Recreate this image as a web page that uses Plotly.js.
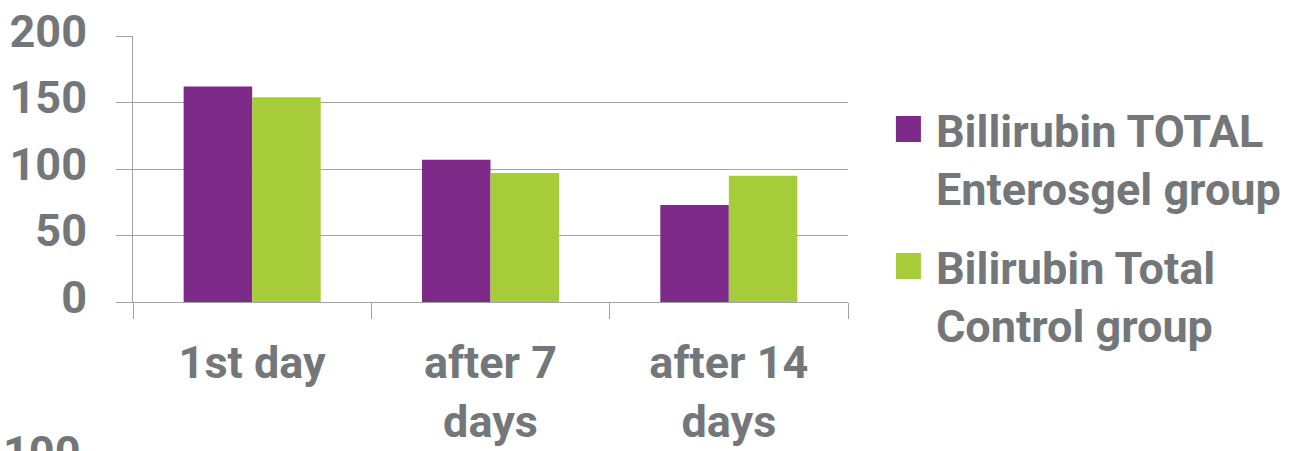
<!DOCTYPE html>
<html>
<head>
<meta charset="utf-8">
<script src="https://cdn.plot.ly/plotly-3.0.1.min.js"></script>
<style>
  html, body { margin: 0; padding: 0; background: #ffffff; }
  #chart { width: 1298px; height: 451px; }
</style>
</head>
<body>
<div id="chart"></div>
<script>
const categories = ["1st day", "after 7<br>days", "after 14<br>days"];
const enterosgelValues = [162, 107, 73];
const controlValues = [154, 97, 95];
const seriesNames = ["Billirubin TOTAL<br>Enterosgel group", "Bilirubin Total<br>Control group"];
const seriesColors = ["#7E2A88", "#A6CD39"];
const yTickValues = [0, 50, 100, 150, 200];
const yTickLabels = ["0", "50", "100", "150", "200"];

const textGray = "#74777A";
const gridGray = "#A3A3A3";
const FONT = "Roboto, 'Liberation Sans', sans-serif";

const traces = [
  { type: "bar", x: categories, y: enterosgelValues, name: seriesNames[0],
    marker: { color: seriesColors[0] }, legendgroup: "a", hoverinfo: "x+y" },
  { type: "bar", x: categories, y: controlValues, name: seriesNames[1],
    marker: { color: seriesColors[1] }, legendgroup: "b", hoverinfo: "x+y" }
];

const layout = {
  width: 1298, height: 451,
  margin: { l: 133, r: 450, t: 36, b: 149, pad: 0 },
  paper_bgcolor: "#ffffff", plot_bgcolor: "#ffffff",
  font: { family: FONT, size: 45, color: textGray, weight: 700 },
  barmode: "group", bargap: 0.425, bargroupgap: 0,
  xaxis: {
    type: "category",
    tickson: "boundaries",
    ticks: "outside", ticklen: 16, tickwidth: 1, tickcolor: gridGray,
    showline: true, linecolor: gridGray, linewidth: 1,
    showgrid: false, zeroline: false,
    tickfont: { family: FONT, size: 45, color: textGray, weight: 700 },
    ticklabelstandoff: 21,
    fixedrange: true
  },
  yaxis: {
    range: [0, 200],
    tickvals: yTickValues, ticktext: yTickLabels,
    ticks: "outside", ticklen: 16, tickwidth: 1, tickcolor: gridGray,
    showline: true, linecolor: gridGray, linewidth: 1,
    showgrid: true, gridcolor: gridGray, gridwidth: 1,
    zeroline: false,
    tickfont: { family: FONT, size: 45, color: textGray, weight: 700 },
    ticklabelstandoff: 20,
    ticklabelshift: -5,
    fixedrange: true
  },
  showlegend: true,
  legend: {
    x: 1.067, xanchor: "left", y: 0.785, yanchor: "top",
    valign: "top", traceorder: "grouped", tracegroupgap: 17,
    font: { family: FONT, size: 45, color: textGray, weight: 700 },
    bgcolor: "rgba(0,0,0,0)", borderwidth: 0
  },
  annotations: [
    { xref: "paper", yref: "paper", x: -0.185, y: -0.46, xanchor: "left", yanchor: "top",
      text: "100", showarrow: false,
      font: { family: FONT, size: 45, color: textGray, weight: 700 } }
  ]
};

Plotly.newPlot("chart", traces, layout, { displayModeBar: false, staticPlot: true }).then(function (gd) {
  // enlarge legend swatches to match the reference's square markers
  gd.querySelectorAll(".legend .legendpoints path").forEach(function (p) {
    p.setAttribute("d", "M5,13H-21V-13H5Z");
  });
});
</script>
</body>
</html>
